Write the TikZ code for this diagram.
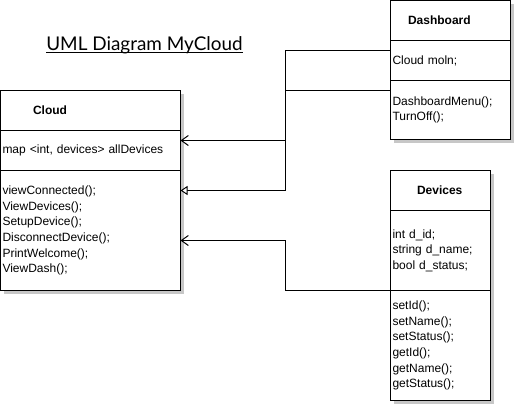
\documentclass[tikz,border=0pt]{standalone}
\usepackage{fontspec}
\setmainfont{Liberation Sans}
\newfontfamily\titlefont{Lato}
\usetikzlibrary{arrows.meta,shadows}

\tikzset{
  part/.style={draw, fill=white, line width=1pt, inner xsep=2pt, inner ysep=0pt, outer sep=0pt,
    align=left, anchor=north west, font=\fontsize{12}{15.6}\selectfont,
    drop shadow={shadow xshift=3pt, shadow yshift=-3pt, fill=black!22, opacity=1}},
  cloudpart/.style={part, minimum width=180pt, text width=176pt},
  dashpart/.style={part, minimum width=120pt, text width=116pt},
  devpart/.style={part, minimum width=100pt, text width=96pt},
  head/.style={font=\fontsize{12}{15.6}\selectfont\bfseries, minimum height=40pt},
  link/.style={line width=1pt},
  assoc/.style={link, -{Straight Barb[length=7pt, width=10pt]}},
  inherit/.style={link, -{Triangle[open, fill=white, length=7pt, width=9pt]}}
}

\begin{document}
\begin{tikzpicture}[x=1pt, y=-1pt]
  \useasboundingbox (0,0) rectangle (516,418);

  \node[font=\titlefont\fontsize{18.9}{21}\selectfont, inner xsep=0pt] (title) at (144.5,45)
    {UML Diagram MyCloud};
  \draw[link] ([yshift=-2.5pt]title.base west) -- ([yshift=-2.5pt]title.base east);

  % Cloud
  \node[cloudpart, head] (cloudhead) at (0.5,90.5) {\hspace*{30.5pt}Cloud};
  \node[cloudpart, minimum height=40pt] (cloudattr) at (cloudhead.south west)
    {map <int, devices> allDevices};
  \node[cloudpart, minimum height=120pt] (cloudops) at (cloudattr.south west)
    {viewConnected();\\ViewDevices();\\SetupDevice();\\DisconnectDevice();\\PrintWelcome();\\ViewDash();};

  % Dashboard
  \node[dashpart, head] (dashhead) at (390.5,0.5) {\hspace*{15.5pt}Dashboard};
  \node[dashpart, minimum height=40pt] (dashattr) at (dashhead.south west) {Cloud moln;};
  \node[dashpart, minimum height=59pt] (dashops) at (dashattr.south west)
    {DashboardMenu();\\TurnOff();};

  % Devices
  \node[devpart, head] (devhead) at (390.5,170.5) {\hspace*{24.5pt}Devices};
  \node[devpart, minimum height=80pt] (devattr) at (devhead.south west)
    {int d\_id;\\string d\_name;\\bool d\_status;};
  \node[devpart, minimum height=110pt] (devops) at (devattr.south west)
    {setId();\\setName();\\setStatus();\\getId();\\getName();\\getStatus();};

  % links
  \draw[assoc] ([yshift=10pt]dashattr.west) -- ++(-105,0) |- ([yshift=10pt]cloudattr.east);
  \draw[inherit] ([yshift=19.5pt]dashops.west) -- ++(-105,0) |- ([yshift=40pt]cloudops.east);
  \draw[assoc] (devops.north west) -- ++(-105,0) |- ([yshift=-10pt]cloudops.east);
\end{tikzpicture}
\end{document}
